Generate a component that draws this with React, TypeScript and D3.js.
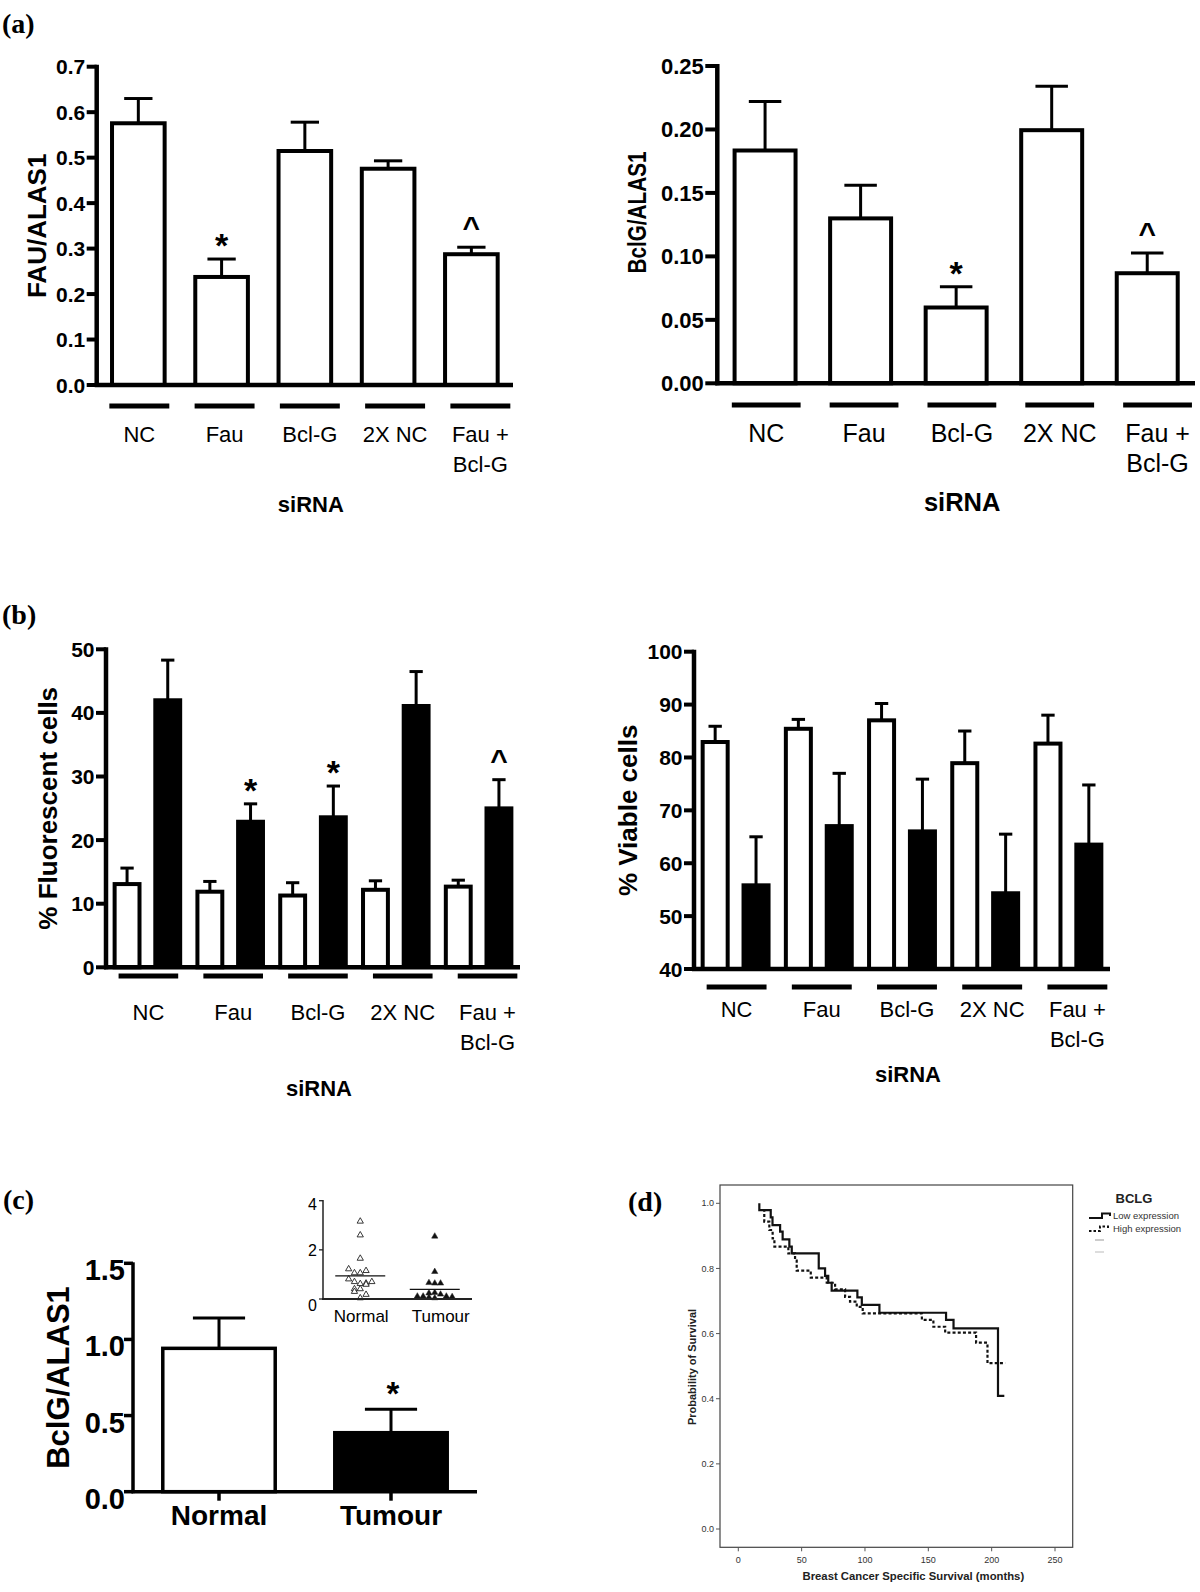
import React from 'react';
import * as d3 from 'd3';

const SANS = '"Liberation Sans", Arial, Helvetica, sans-serif';
const SERIF = '"Liberation Serif", "Times New Roman", serif';

// ---------- Panel (a) / (b) data ----------
const categories = ['NC', 'Fau', 'Bcl-G', '2X NC', 'Fau + Bcl-G'];
const categoryLines = [['NC'], ['Fau'], ['Bcl-G'], ['2X NC'], ['Fau +', 'Bcl-G']];

const fauMean = [0.58, 0.242, 0.519, 0.48, 0.292];
const fauErr = [0.05, 0.035, 0.059, 0.013, 0.011];
const fauMarks = ['', '*', '', '', '^'];
const fauTicks = [0, 0.1, 0.2, 0.3, 0.4, 0.5, 0.6, 0.7];

const bclgMean = [0.185, 0.1315, 0.0613, 0.201, 0.0883];
const bclgErr = [0.037, 0.0245, 0.0147, 0.033, 0.0144];
const bclgMarks = ['', '', '*', '', '^'];
const bclgTicks = [0, 0.05, 0.1, 0.15, 0.2, 0.25];

const fluorCtrl = [13.4, 12.2, 11.6, 12.5, 13.0];
const fluorCtrlErr = [2.2, 1.3, 1.7, 1.1, 0.7];
const fluorTreat = [42.3, 23.2, 23.9, 41.4, 25.3];
const fluorTreatErr = [6.0, 2.5, 4.6, 5.1, 4.2];
const fluorMarks = ['', '*', '*', '', '^'];
const fluorTicks = [0, 10, 20, 30, 40, 50];

const viableCtrl = [83.3, 85.8, 87.4, 79.3, 83.0];
const viableCtrlErr = [2.6, 1.4, 2.8, 5.7, 5.0];
const viableTreat = [56.2, 67.4, 66.4, 54.7, 63.9];
const viableTreatErr = [8.8, 9.6, 9.5, 10.8, 10.9];
const viableMarks = ['', '', '', '', ''];
const viableTicks = [40, 50, 60, 70, 80, 90, 100];

// ---------- Panel (c) data ----------
const tissue = ['Normal', 'Tumour'];
const tissueMean = [0.953, 0.399];
const tissueErr = [0.187, 0.142];
const tissueMarks = ['', '*'];
const tissueTicks = [0, 0.5, 1.0, 1.5];

const insetTicks = [0, 2, 4];
// [value, jitter slot]
const normalPoints: [number, number][] = [
  [3.12, 0], [2.56, 0], [1.61, 0],
  [1.18, -2], [1.02, -1], [1.02, 0], [1.11, 1],
  [0.77, -2], [0.66, -1], [0.58, 0], [0.6, 1], [0.66, 2], [0.55, 1],
  [0.37, -1], [0.37, 0], [0.26, -1], [0.14, 1], [0.0, 0],
];
const tumourPoints: [number, number][] = [
  [2.51, 0], [1.07, 0], [0.62, -1], [0.6, 0], [0.6, 1],
  [0.07, -3], [0.07, -2], [0.2, -1], [0.22, 0], [0.15, 1], [0.07, 2], [0.05, 3], [0.0, 0], [0.03, -1],
];
const normalMedian = 0.94;
const tumourMedian = 0.39;

// ---------- Panel (d) data ----------
const lowExpression: [number, number][] = [
  [16.6, 1.0], [16.6, 0.979], [25.6, 0.957], [27, 0.933], [33, 0.913], [35, 0.889], [40.3, 0.867],
  [42.2, 0.846], [63.5, 0.8], [68.5, 0.777], [71, 0.756], [73.7, 0.732], [94, 0.711], [97.5, 0.688],
  [111.4, 0.664], [164, 0.642], [169.9, 0.616], [205, 0.409], [210, 0.409],
];
const highExpression: [number, number][] = [
  [19.5, 0.979], [20.5, 0.944], [24.5, 0.918], [27.1, 0.892], [28.5, 0.867], [39.5, 0.846],
  [44.8, 0.824], [46.1, 0.793], [57.2, 0.772], [69.8, 0.756], [76.4, 0.736], [84.3, 0.713],
  [88.2, 0.698], [93.5, 0.682], [98.2, 0.662], [144.9, 0.642], [154, 0.621], [163.3, 0.603],
  [187.7, 0.572], [196.7, 0.509], [210.7, 0.509],
];
const kmYTicks = [0, 0.2, 0.4, 0.6, 0.8, 1.0];
const kmXTicks = [0, 50, 100, 150, 200, 250];

type Series = { values: number[]; errors: number[]; fill: string };

function BarPanel(p: any) {
  const { x0, x1, yTop, yBottom, domain, ticks, fmt, series, marks, ylabel, ylabelX, lineY, catY, xlabelY } = p;
  const tickFont = p.tickFont ?? 21;
  const catFont = p.catFont ?? 22;
  const xlabFont = p.xlabFont ?? 22;
  const ylabFont = p.ylabFont ?? 26;
  const tickLen = p.tickLen ?? 10;
  const ylabelY = p.ylabelY ?? (yTop + yBottom) / 2;
  const grouped = series.length > 1;
  const y = d3.scaleLinear().domain(domain).range([yBottom, yTop]);
  const x = d3.scaleBand<string>().domain(categories).range([x0, x1])
    .paddingInner(grouped ? 0.16 : 0.32).paddingOuter(grouped ? 0.08 : 0.16);
  const sub = d3.scaleBand<number>().domain(series.map((_: any, i: number) => i))
    .range([0, x.bandwidth()]).paddingInner(grouped ? 0.29 : 0);
  const lab = d3.scaleBand<string>().domain(categories).range([x0, x1 + (x1 - x0) * 0.024]);
  const bw = sub.bandwidth();
  const sw = 4;
  const cap = bw * (grouped ? 0.46 : 0.5);
  const base = domain[0];
  const ulHalf = x.step() * 0.36;
  return (
    <g>
      {series.map((s: Series, si: number) => s.values.map((v, ci) => {
        const bx = (x(categories[ci]) as number) + (sub(si) as number);
        const top = y(v);
        const etop = y(v + s.errors[ci]);
        const cx = bx + bw / 2;
        return (
          <g key={`${si}-${ci}`}>
            {s.fill === 'white'
              ? <rect x={bx + sw / 2} y={top + sw / 2} width={bw - sw} height={y(base) - top - sw / 2} fill="#fff" stroke="#000" strokeWidth={sw} />
              : <rect x={bx} y={top} width={bw} height={y(base) - top} fill="#000" />}
            <line x1={cx} x2={cx} y1={top + 1} y2={etop} stroke="#000" strokeWidth={3} />
            <line x1={cx - cap / 2} x2={cx + cap / 2} y1={etop} y2={etop} stroke="#000" strokeWidth={3} />
          </g>
        );
      }))}
      {marks.map((m: string, ci: number) => {
        if (!m) return null;
        const si = series.length - 1;
        const s = series[si];
        const cx = (x(categories[ci]) as number) + (sub(si) as number) + bw / 2;
        const etop = y(s.values[ci] + s.errors[ci]);
        return (
          <text key={'m' + ci} x={cx} y={m === '*' ? etop - 2 : etop - 10} textAnchor="middle"
            fontWeight="bold" fontSize={m === '*' ? 34 : 30}>{m}</text>
        );
      })}
      <line x1={x0} x2={x0} y1={yTop - 2} y2={yBottom + 2} stroke="#000" strokeWidth={4.5} />
      <line x1={x0 - 2} x2={x1} y1={yBottom} y2={yBottom} stroke="#000" strokeWidth={4.5} />
      {ticks.map((t: number) => (
        <g key={'t' + t}>
          <line x1={x0 - tickLen} x2={x0} y1={y(t)} y2={y(t)} stroke="#000" strokeWidth={4} />
          <text x={x0 - tickLen - 1.5} y={y(t)} dy="0.36em" textAnchor="end" fontWeight="bold" fontSize={tickFont}>{fmt(t)}</text>
        </g>
      ))}
      {categories.map((c, ci) => {
        const lc = (lab(c) as number) + lab.bandwidth() / 2;
        return (
          <g key={'c' + c}>
            <line x1={lc - ulHalf} x2={lc + ulHalf} y1={lineY} y2={lineY} stroke="#000" strokeWidth={5} />
            {categoryLines[ci].map((ln, k) => (
              <text key={k} x={lc} y={catY + k * 30} textAnchor="middle" fontSize={catFont}>{ln}</text>
            ))}
          </g>
        );
      })}
      <text x={(x0 + x1) / 2 + 6} y={xlabelY} textAnchor="middle" fontWeight="bold" fontSize={xlabFont}>siRNA</text>
      <text transform={`translate(${ylabelX + ylabFont * 0.35},${ylabelY}) rotate(-90)`} textAnchor="middle"
        fontWeight="bold" fontSize={ylabFont}
        {...(p.ylabelLen ? { textLength: p.ylabelLen, lengthAdjust: 'spacingAndGlyphs' } : {})}>{ylabel}</text>
    </g>
  );
}

function PanelC() {
  const x0 = 133, x1 = 477, yTop = 1263.3, yBottom = 1491.7;
  const y = d3.scaleLinear().domain([0, 1.5]).range([yBottom, yTop]);
  const x = d3.scaleBand<string>().domain(tissue).range([x0, x1]).paddingInner(0.326).paddingOuter(0.163);
  const bw = x.bandwidth();
  const sw = 3.5;
  const cap = bw * 0.45;
  const fmt = d3.format('.1f');

  const iy = d3.scaleLinear().domain([0, 4]).range([1299, 1200.7]);
  const ix = d3.scaleBand<string>().domain(tissue).range([323, 472]);
  const tri = d3.symbol(d3.symbolTriangle, 17)() as string;
  const slot = 5.8;
  const groups = [normalPoints, tumourPoints];
  const medians = [normalMedian, tumourMedian];

  return (
    <g>
      {tissue.map((t, i) => {
        const bx = x(t) as number;
        const top = y(tissueMean[i]);
        const etop = y(tissueMean[i] + tissueErr[i]);
        const cx = bx + bw / 2;
        return (
          <g key={t}>
            {i === 0
              ? <rect x={bx + sw / 2} y={top + sw / 2} width={bw - sw} height={yBottom - top - sw / 2} fill="#fff" stroke="#000" strokeWidth={sw} />
              : <rect x={bx} y={top} width={bw} height={yBottom - top} fill="#000" />}
            <line x1={cx} x2={cx} y1={top + 1} y2={etop} stroke="#000" strokeWidth={3} />
            <line x1={cx - cap / 2} x2={cx + cap / 2} y1={etop} y2={etop} stroke="#000" strokeWidth={3} />
            {tissueMarks[i] && <text x={cx + 2} y={etop - 4} textAnchor="middle" fontWeight="bold" fontSize={33}>{tissueMarks[i]}</text>}
            <line x1={cx} x2={cx} y1={yBottom} y2={yBottom + 9} stroke="#000" strokeWidth={3.5} />
            <text x={cx} y={1525} textAnchor="middle" fontWeight="bold" fontSize={28}>{t}</text>
          </g>
        );
      })}
      <line x1={x0} x2={x0} y1={yTop - 1} y2={yBottom + 1.5} stroke="#000" strokeWidth={3.5} />
      <line x1={x0 - 1.5} x2={x1} y1={yBottom} y2={yBottom} stroke="#000" strokeWidth={3.5} />
      {tissueTicks.map(t => (
        <g key={'ct' + t}>
          <line x1={x0 - 9} x2={x0} y1={y(t)} y2={y(t)} stroke="#000" strokeWidth={3.5} />
          <text x={x0 - 8} y={y(t) + 17} textAnchor="end" fontWeight="bold" fontSize={29}>{fmt(t)}</text>
        </g>
      ))}
      <text transform={`translate(${69},${(yTop + yBottom) / 2}) rotate(-90)`} textAnchor="middle"
        fontWeight="bold" fontSize={31}>BclG/ALAS1</text>

      {/* inset */}
      {groups.map((g, gi) => {
        const cx = (ix(tissue[gi]) as number) + ix.bandwidth() / 2;
        return (
          <g key={'ins' + gi}>
            {g.map(([v, s], k) => (
              <path key={k} d={tri} transform={`translate(${cx + s * slot},${iy(v) - 1})`}
                fill={gi === 0 ? '#fff' : '#111'} stroke="#222" strokeWidth={gi === 0 ? 0.9 : 0.5} />
            ))}
            <line x1={cx - 25} x2={cx + 25} y1={iy(medians[gi])} y2={iy(medians[gi])} stroke="#111" strokeWidth={1.3} />
            <text x={cx + (gi === 0 ? 1 : 6)} y={1322} textAnchor="middle" fontSize={17}>{tissue[gi]}</text>
          </g>
        );
      })}
      <line x1={323} x2={323} y1={1200} y2={1299} stroke="#222" strokeWidth={1.5} />
      <line x1={322} x2={472} y1={1299} y2={1299} stroke="#222" strokeWidth={2} />
      {insetTicks.map(t => (
        <g key={'it' + t}>
          <line x1={319} x2={323} y1={iy(t)} y2={iy(t)} stroke="#222" strokeWidth={1.3} />
          <text x={317} y={iy(t)} dy={t === 0 ? '0.75em' : t === 4 ? '0.6em' : '0.4em'} textAnchor="end" fontSize={16}>{t}</text>
        </g>
      ))}
    </g>
  );
}

function PanelD() {
  const left = 720, right = 1072.7, top = 1185, bottom = 1547.3;
  const kx = d3.scaleLinear().domain([0, 250]).range([738.3, 1055]);
  const ky = d3.scaleLinear().domain([0, 1]).range([1529, 1203.3]);
  const line = d3.line<[number, number]>().x(d => kx(d[0])).y(d => ky(d[1])).curve(d3.curveStepAfter);
  const fy = d3.format('.1f');
  return (
    <g>
      <rect x={left} y={top} width={right - left} height={bottom - top} fill="none" stroke="#444" strokeWidth={1.2} />
      {kmYTicks.map(t => (
        <g key={'ky' + t}>
          <line x1={left - 4} x2={left} y1={ky(t)} y2={ky(t)} stroke="#555" strokeWidth={1} />
          <text x={left - 6} y={ky(t)} dy="0.35em" textAnchor="end" fontSize={9} fill="#333">{fy(t)}</text>
        </g>
      ))}
      {kmXTicks.map(t => (
        <g key={'kx' + t}>
          <line x1={kx(t)} x2={kx(t)} y1={bottom} y2={bottom + 4} stroke="#555" strokeWidth={1} />
          <text x={kx(t)} y={1563} textAnchor="middle" fontSize={9} fill="#333">{t}</text>
        </g>
      ))}
      <path d={line(highExpression) as string} fill="none" stroke="#111" strokeWidth={2.2} strokeDasharray="3,2.2" />
      <path d={line(lowExpression) as string} fill="none" stroke="#111" strokeWidth={2.2} />
      <text x={(left + right) / 2 + 17} y={1580} textAnchor="middle" fontWeight="bold" fontSize={11.3} fill="#222">Breast Cancer Specific Survival (months)</text>
      <text transform={`translate(${696},${1367}) rotate(-90)`} textAnchor="middle" fontWeight="bold" fontSize={11} fill="#222">Probability of Survival</text>
      {/* legend */}
      <text x={1134} y={1203} textAnchor="middle" fontWeight="bold" fontSize={13} fill="#222">BCLG</text>
      <path d="M1089,1218 H1102 V1213.5 H1110 V1216" fill="none" stroke="#111" strokeWidth={2} />
      <text x={1113} y={1219} fontSize={9.5} fill="#333">Low expression</text>
      <path d="M1089,1231 H1100 V1226.5 H1108 V1229" fill="none" stroke="#111" strokeWidth={2} strokeDasharray="2.5,2" />
      <text x={1113} y={1232} fontSize={9.5} fill="#333">High expression</text>
      <line x1={1095} x2={1104} y1={1240} y2={1240} stroke="#999" strokeWidth={1} />
      <line x1={1095} x2={1104} y1={1252} y2={1252} stroke="#bbb" strokeWidth={1} />
    </g>
  );
}

export default function App() {
  const f1 = d3.format('.1f');
  const f2 = d3.format('.2f');
  const f0 = d3.format('d');
  return (
    <svg width={1200} height={1592} style={{ position: 'absolute', left: 0, top: 0, display: 'block' }} fontFamily={SANS}>
      <rect width={1200} height={1592} fill="#fff" />
      <text x={2} y={33} fontFamily={SERIF} fontWeight="bold" fontSize={28}>(a)</text>
      <text x={2} y={624} fontFamily={SERIF} fontWeight="bold" fontSize={28}>(b)</text>
      <text x={3} y={1209} fontFamily={SERIF} fontWeight="bold" fontSize={28}>(c)</text>
      <text x={628} y={1211} fontFamily={SERIF} fontWeight="bold" fontSize={28}>(d)</text>

      <BarPanel x0={96.7} x1={513} yTop={66.7} yBottom={385} domain={[0, 0.7]} ticks={fauTicks} fmt={f1}
        series={[{ values: fauMean, errors: fauErr, fill: 'white' }]} marks={fauMarks}
        ylabel="FAU/ALAS1" ylabelX={37} lineY={406} catY={442} xlabelY={512} />
      <BarPanel x0={717.3} x1={1195} yTop={66} yBottom={383.3} domain={[0, 0.25]} ticks={bclgTicks} fmt={f2}
        series={[{ values: bclgMean, errors: bclgErr, fill: 'white' }]} marks={bclgMarks}
        ylabel="BclG/ALAS1" ylabelX={637.5} ylabelY={212.5} ylabelLen={122} lineY={405} catY={442} xlabelY={511}
        tickFont={22} catFont={25} xlabFont={25.5} ylabFont={25} tickLen={12} />
      <BarPanel x0={106} x1={520} yTop={649.3} yBottom={967.3} domain={[0, 50]} ticks={fluorTicks} fmt={f0}
        series={[{ values: fluorCtrl, errors: fluorCtrlErr, fill: 'white' }, { values: fluorTreat, errors: fluorTreatErr, fill: 'black' }]}
        marks={fluorMarks} ylabel="% Fluorescent cells" ylabelX={48} lineY={976} catY={1020} xlabelY={1096} />
      <BarPanel x0={694} x1={1110} yTop={651.7} yBottom={969} domain={[40, 100]} ticks={viableTicks} fmt={f0}
        series={[{ values: viableCtrl, errors: viableCtrlErr, fill: 'white' }, { values: viableTreat, errors: viableTreatErr, fill: 'black' }]}
        marks={viableMarks} ylabel="% Viable cells" ylabelX={628} lineY={987} catY={1017} xlabelY={1082} />

      <PanelC />
      <PanelD />
    </svg>
  );
}
